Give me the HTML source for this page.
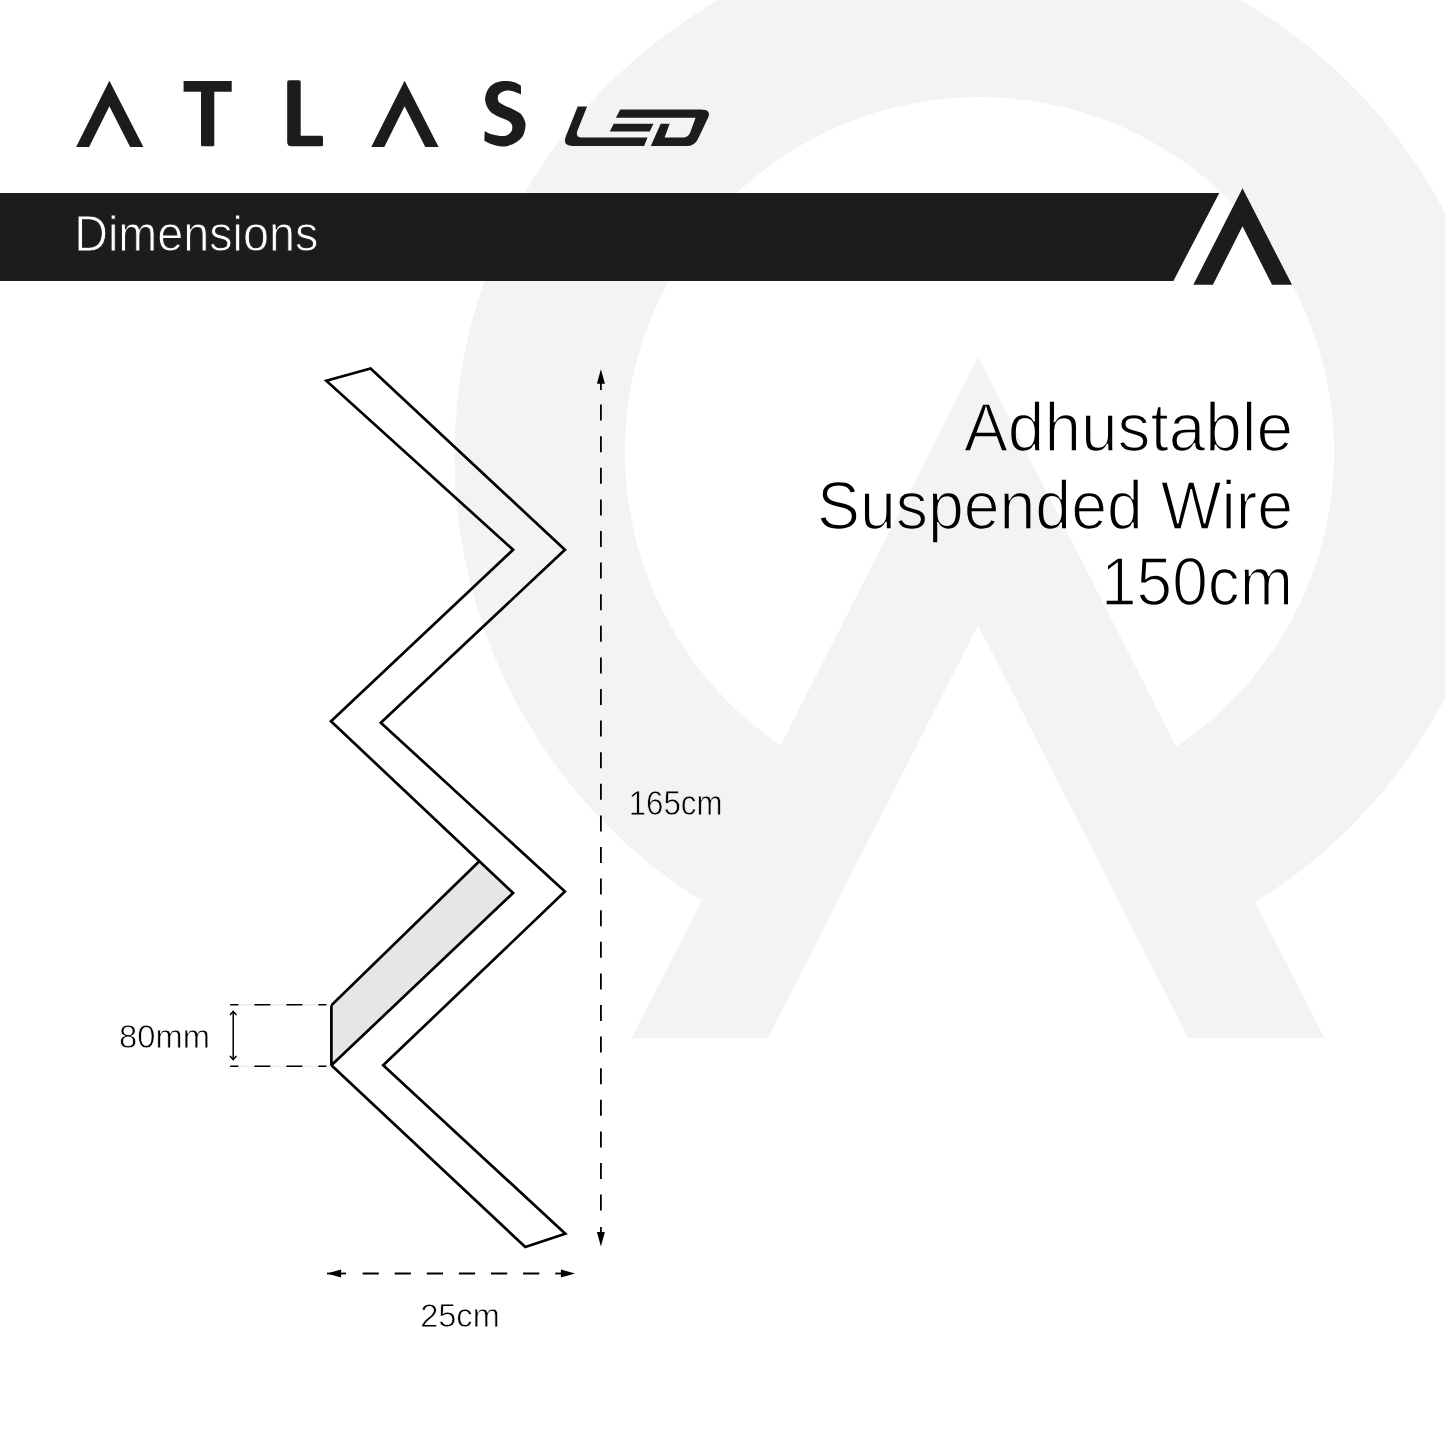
<!DOCTYPE html>
<html><head><meta charset="utf-8">
<style>
html,body{margin:0;padding:0;background:#fff;width:1445px;height:1445px;overflow:hidden;}
svg{display:block;}
text{font-family:"Liberation Sans",sans-serif;}
</style></head>
<body>
<svg width="1445" height="1445" viewBox="0 0 1445 1445">
<!-- watermark -->
<path fill="#f3f3f3" fill-rule="evenodd" d="M454.50 455.50 a525.00 525.00 0 1 0 1050.00 0 a525.00 525.00 0 1 0 -1050.00 0 Z M624.90 451.70 a354.60 354.60 0 1 0 709.20 0 a354.60 354.60 0 1 0 -709.20 0 Z"/>
<polygon fill="#f3f3f3" points="978.1,357.1 631.8,1038 1324.4,1038"/>
<polygon fill="#ffffff" points="978.1,624.9 768,1038 1188.2,1038"/>

<!-- ATLAS logo -->
<g fill="#1c1c1c">
<polygon points="109.4,80.8 143.4,147 130.1,147 109.4,106.3 89.1,147 76.1,147"/>
<path d="M183.6 81.1 H231.7 V91.8 H214.3 V145 Q214.3 146.2 213 146.2 H202.3 Q201 146.2 201 145 V91.8 H183.6 Z"/>
<path d="M289 80.2 H299 Q300.7 80.2 300.7 82 V135.7 H321.5 Q323 135.7 323 137.2 V144.7 Q323 146.2 321.5 146.2 H291.5 Q287.2 146.2 287.2 142 V82 Q287.2 80.2 289 80.2 Z"/>
<polygon points="404.6,80.8 438.6,147 425.3,147 404.6,106.3 384.3,147 371.3,147"/>
<path d="M520.96 85.73 C520.96 87.17 520.96 92.96 520.96 94.40 C519.60 93.88 515.39 91.86 512.81 91.25 C510.22 90.64 507.72 90.28 505.45 90.72 C503.17 91.16 500.41 92.65 499.14 93.88 C497.87 95.10 497.82 96.68 497.82 98.08 C497.82 99.49 498.04 101.06 499.14 102.29 C500.23 103.52 502.12 104.31 504.39 105.45 C506.67 106.59 510.09 107.72 512.81 109.13 C515.52 110.53 518.68 111.84 520.69 113.86 C522.71 115.87 524.11 119.12 524.90 121.22 C525.69 123.32 525.69 124.20 525.43 126.48 C525.16 128.76 524.73 132.35 523.32 134.89 C521.92 137.43 519.64 139.89 517.01 141.73 C514.38 143.57 510.44 145.19 507.55 145.93 C504.66 146.68 502.29 146.46 499.66 146.20 C497.03 145.93 494.32 145.28 491.77 144.36 C489.23 143.44 485.64 141.29 484.41 140.68 C484.46 139.10 484.63 132.79 484.68 131.21 C485.86 131.74 489.28 133.58 491.77 134.37 C494.27 135.15 497.21 135.77 499.66 135.94 C502.12 136.12 504.57 136.12 506.50 135.42 C508.43 134.72 510.27 133.23 511.23 131.74 C512.19 130.25 512.46 128.06 512.28 126.48 C512.11 124.90 511.49 123.50 510.18 122.27 C508.86 121.05 506.76 120.26 504.39 119.12 C502.03 117.98 498.52 116.93 495.98 115.44 C493.44 113.95 490.90 112.37 489.15 110.18 C487.39 107.99 486.03 104.83 485.46 102.29 C484.90 99.75 485.03 97.47 485.73 94.93 C486.43 92.39 487.79 89.15 489.67 87.04 C491.56 84.94 494.40 83.32 497.03 82.31 C499.66 81.30 502.55 81.00 505.45 81.00 C508.34 81.00 511.80 81.52 514.38 82.31 C516.97 83.10 519.86 85.16 520.96 85.73 Z"/>
<!-- LED -->
<path d="M577.7 106.4 H587.1 L577.1 131.5 Q575.5 137.6 582 137.6 H647.5 L644.1 145.9 H573 Q562 145.9 566 136 Z"/>
<path d="M620.3 109.4 H701.2 Q711 109.4 708.4 117.1 L697.8 139.3 Q694.5 145.9 687.9 145.9 H650.8 L660.7 123.8 H669.6 L664.6 137.6 H683 Q688 137.6 690.2 132.5 L695.6 117.7 H615.9 Z"/>
<polygon points="613.7,123.8 653.5,123.8 649.7,131.5 609.8,131.5"/>
</g>

<!-- header bar -->
<polygon fill="#1c1c1c" points="0,193 1219.3,193 1173.4,280.9 0,280.9"/>
<polygon fill="#1c1c1c" points="1242.5,188.3 1292,284.8 1272,284.8 1242.5,226.3 1212.9,284.8 1193.3,284.8"/>

<!-- right text -->

<!-- zigzag -->
<polygon fill="#e6e6e6" points="478.5,862 513.1,893 331.4,1065.3 331.4,1005.2"/>
<polygon fill="none" stroke="#000" stroke-width="2.7" stroke-linejoin="miter" points="326.3,380.7 370.6,368.5 564.9,549.8 380.8,722.7 564.9,891.6 383.2,1065.3 565.3,1233.7 525.3,1247 331.4,1065.3 513.1,893 331,721.3 513.1,549.8"/>
<polyline fill="none" stroke="#000" stroke-width="2.7" points="331.4,1065.3 331.4,1005.2 478.5,862"/>

<!-- vertical dim -->
<g stroke="#000" stroke-width="1.8" fill="none">
<line x1="600.9" y1="383" x2="600.9" y2="390"/>
<line x1="600.9" y1="404.6" x2="600.9" y2="1212" stroke-dasharray="16 15.6"/>
<line x1="600.9" y1="1227" x2="600.9" y2="1233"/>
<line x1="327" y1="1273.5" x2="346" y2="1273.5"/>
<line x1="362.6" y1="1273.5" x2="540" y2="1273.5" stroke-dasharray="16.2 15.9"/>
<line x1="555.2" y1="1273.5" x2="562" y2="1273.5"/>
</g>
<polygon points="600.9,369.2 596.9,383.7 604.9,383.7" fill="#000"/>
<polygon points="600.9,1246.5 596.9,1232 604.9,1232" fill="#000"/>
<polygon points="327,1273.5 341.1,1269.5 341.1,1277.5" fill="#000"/>
<polygon points="575,1273.5 560.9,1269.5 560.9,1277.5" fill="#000"/>

<!-- 80mm dim -->
<line x1="230" y1="1004.7" x2="331" y2="1004.7" stroke="#eeeeee" stroke-width="1.5"/>
<line x1="230" y1="1066.3" x2="331" y2="1066.3" stroke="#eeeeee" stroke-width="1.5"/>
<line x1="230.1" y1="1004.7" x2="331" y2="1004.7" stroke="#000" stroke-width="1.5" stroke-dasharray="8.3 16 16 16 16 16 8"/>
<line x1="230.1" y1="1066.3" x2="331" y2="1066.3" stroke="#000" stroke-width="1.5" stroke-dasharray="8.3 16 16 16 16 16 8"/>
<g stroke="#000" stroke-width="1.5" fill="none" stroke-linecap="round" stroke-linejoin="round">
<line x1="233.2" y1="1011.5" x2="233.2" y2="1059.5"/>
<polyline points="230.4,1014.6 233.2,1011.4 236,1014.6"/>
<polyline points="230.4,1056.4 233.2,1059.6 236,1056.4"/>
</g>
<!-- thin text via mask -->
<mask id="thinmask" maskUnits="userSpaceOnUse" x="0" y="0" width="1445" height="1445">
<rect x="0" y="0" width="1445" height="1445" fill="#fff"/>
<g fill="none" stroke="#000">
<text x="964.03" y="451.4" font-size="69.2" textLength="328.98" lengthAdjust="spacingAndGlyphs" stroke-width="1.7">Adhustable</text>
<text x="816.94" y="529.1" font-size="69.2" textLength="476.12" lengthAdjust="spacingAndGlyphs" stroke-width="1.7">Suspended Wire</text>
<text x="1101.04" y="605.4" font-size="67.6" textLength="192.07" lengthAdjust="spacingAndGlyphs" stroke-width="1.7">150cm</text>
<text x="628.65" y="815.3" font-size="34.4" textLength="93.95" lengthAdjust="spacingAndGlyphs" stroke-width="0.8">165cm</text>
<text x="74.17" y="250.8" font-size="50.7" textLength="244.11" lengthAdjust="spacingAndGlyphs" stroke-width="1.0">Dimensions</text>
<text x="119.01" y="1048.1" font-size="33.4" textLength="90.94" lengthAdjust="spacingAndGlyphs" stroke-width="0.8">80mm</text>
<text x="420.13" y="1326.7" font-size="33.4" textLength="79.63" lengthAdjust="spacingAndGlyphs" stroke-width="0.8">25cm</text>
</g>
</mask>
<g fill="#000" mask="url(#thinmask)">
<text x="119.01" y="1048.1" font-size="33.4" textLength="90.94" lengthAdjust="spacingAndGlyphs">80mm</text>
<text x="420.13" y="1326.7" font-size="33.4" textLength="79.63" lengthAdjust="spacingAndGlyphs">25cm</text>
<text x="964.03" y="451.4" font-size="69.2" textLength="328.98" lengthAdjust="spacingAndGlyphs">Adhustable</text>
<text x="816.94" y="529.1" font-size="69.2" textLength="476.12" lengthAdjust="spacingAndGlyphs">Suspended Wire</text>
<text x="1101.04" y="605.4" font-size="67.6" textLength="192.07" lengthAdjust="spacingAndGlyphs">150cm</text>
<text x="628.65" y="815.3" font-size="34.4" textLength="93.95" lengthAdjust="spacingAndGlyphs">165cm</text>
</g>
<g fill="#fff" mask="url(#thinmask)">
<text x="74.17" y="250.8" font-size="50.7" textLength="244.11" lengthAdjust="spacingAndGlyphs">Dimensions</text>
</g>
</svg>
</body></html>
